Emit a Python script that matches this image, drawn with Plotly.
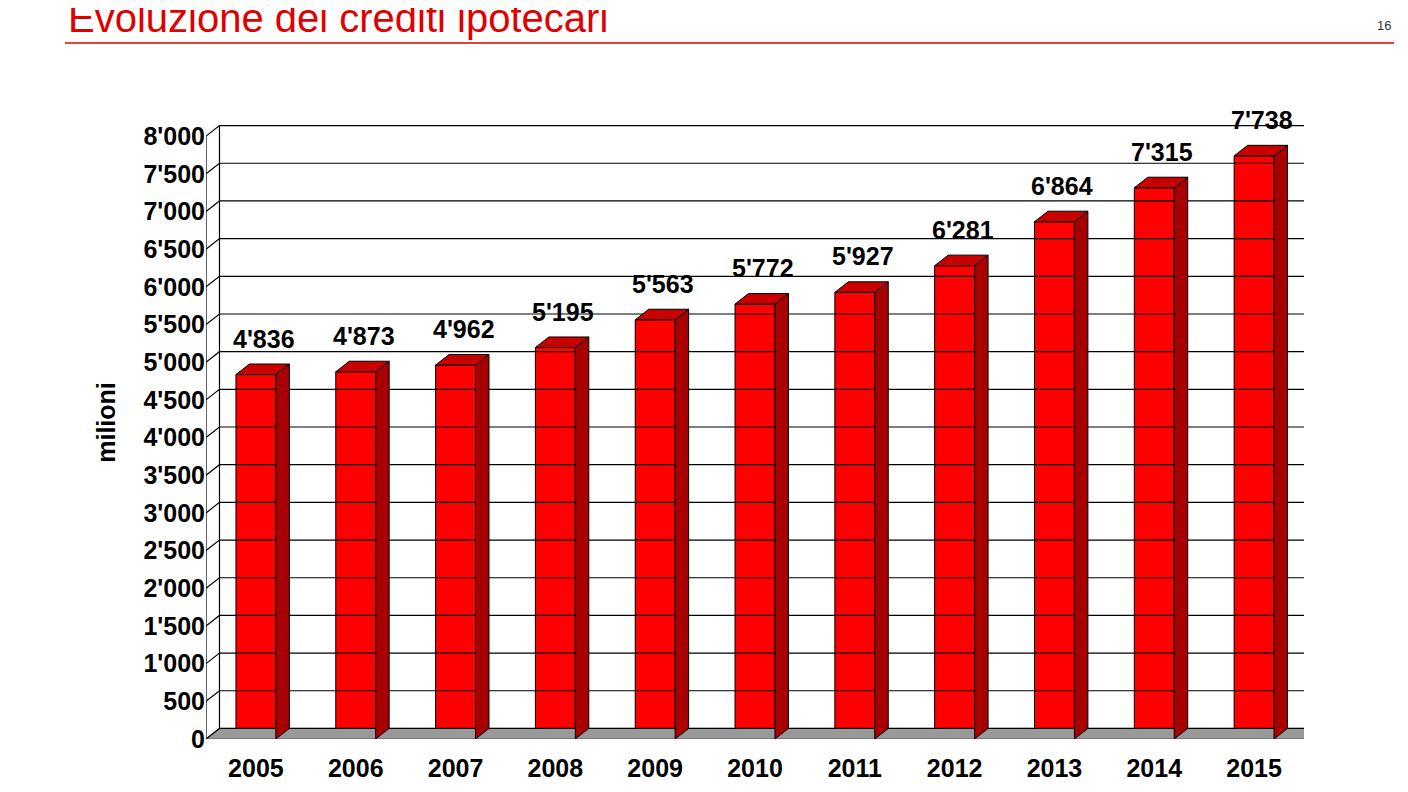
import plotly.graph_objects as go

years = ["2005","2006","2007","2008","2009","2010","2011","2012","2013","2014","2015"]
values = [4836,4873,4962,5195,5563,5772,5927,6281,6864,7315,7738]
ytick_vals = list(range(0, 8001, 500))
ytick_text = ["0","500","1'000","1'500","2'000","2'500","3'000","3'500","4'000","4'500","5'000","5'500","6'000","6'500","7'000","7'500","8'000"]

def fmt(v):
    return f"{v:,}".replace(",", "'")

W, H = 1408, 792
L, R, T, B = 198, 1296, 98, 731
x0, x1 = -0.5, 10.5
y0, y1 = 0, 8400
dx, dy = 0.135, 140
w = 0.4
FONT = "Liberation Sans Narrow, Arial Narrow, Liberation Sans, Arial"

def px(x): return (x - L) / (R - L)
def py(y): return (B - y) / (B - T)

fig = go.Figure()
xs = list(range(len(years)))

fig.add_trace(go.Scatter(x=[x0, x0+dx, x1+dx, x1, x0], y=[0, dy, dy, 0, 0], fill="toself",
                         fillcolor="#999999", line=dict(color="#555555", width=1), mode="lines",
                         hoverinfo="skip", cliponaxis=False))
gx, gy = [], []
for t in ytick_vals:
    gx += [x0, x0+dx, x1+dx, None]; gy += [t, t+dy, t+dy, None]
gx += [x0+dx, x0+dx, None, x0, x0]; gy += [dy, 8000+dy, None, 0, 8000]
fig.add_trace(go.Scatter(x=gx, y=gy, mode="lines", line=dict(color="black", width=1.2),
                         hoverinfo="skip", cliponaxis=False))

fig.add_trace(go.Bar(x=xs, y=values, width=w, marker=dict(color="#ff0000", line=dict(color="black", width=1)), hoverinfo="skip"))
sx, sy, tx, ty = [], [], [], []
for x, v in zip(xs, values):
    r = x + w/2; l = x - w/2
    sx += [r, r+dx, r+dx, r, r, None]; sy += [0, dy, v+dy, v, 0, None]
    tx += [l, l+dx, r+dx, r, l, None]; ty += [v, v+dy, v+dy, v, v, None]
fig.add_trace(go.Scatter(x=sx, y=sy, fill="toself", fillcolor="#a80000", mode="lines",
                         line=dict(color="black", width=1), hoverinfo="skip", cliponaxis=False))
fig.add_trace(go.Scatter(x=tx, y=ty, fill="toself", fillcolor="#c80000", mode="lines",
                         line=dict(color="black", width=1), hoverinfo="skip", cliponaxis=False))

annotations = [dict(x=x + 0.08, y=v, text=f"<b>{fmt(v)}</b>", showarrow=False, yanchor="bottom",
                    yshift=20, font=dict(size=25, color="black", family=FONT))
               for x, v in zip(xs, values)]
annotations += [
    dict(text="Evoluzione dei crediti ipotecari", xref="paper", yref="paper", x=px(58), y=py(10),
         xanchor="left", yanchor="middle", showarrow=False, font=dict(size=40, color="#e00000", family="Liberation Sans, Arial")),
    dict(text="16", xref="paper", yref="paper", x=px(1385), y=py(18), xanchor="right", yanchor="middle",
         showarrow=False, font=dict(size=13, color="#333333", family="Liberation Sans, Arial")),
]

fig.update_layout(
    width=W, height=H, showlegend=False, plot_bgcolor="white", paper_bgcolor="white",
    margin=dict(l=L, r=W-R, t=T, b=H-B, autoexpand=False),
    xaxis=dict(range=[x0, x1], tickvals=xs, ticktext=[f"<b>{y}</b>" for y in years], showgrid=False,
               zeroline=False, tickfont=dict(size=25, family=FONT, color="black"), ticks="", showline=False,
               automargin=False, ticklabelstandoff=12),
    yaxis=dict(range=[y0, y1], tickvals=ytick_vals, ticktext=[f"<b>{t}</b>" for t in ytick_text], showgrid=False,
               zeroline=False, tickfont=dict(size=25, family=FONT, color="black"), ticks="", automargin=False,
               title=dict(text="<b>milioni</b>", font=dict(size=25, family=FONT, color="black"), standoff=20)),
    annotations=annotations,
    shapes=[dict(type="line", xref="paper", yref="paper", x0=px(57), x1=px(1386), y0=py(35), y1=py(35),
                 line=dict(color="#e00000", width=1.5))],
)
fig.write_html("out.html")
